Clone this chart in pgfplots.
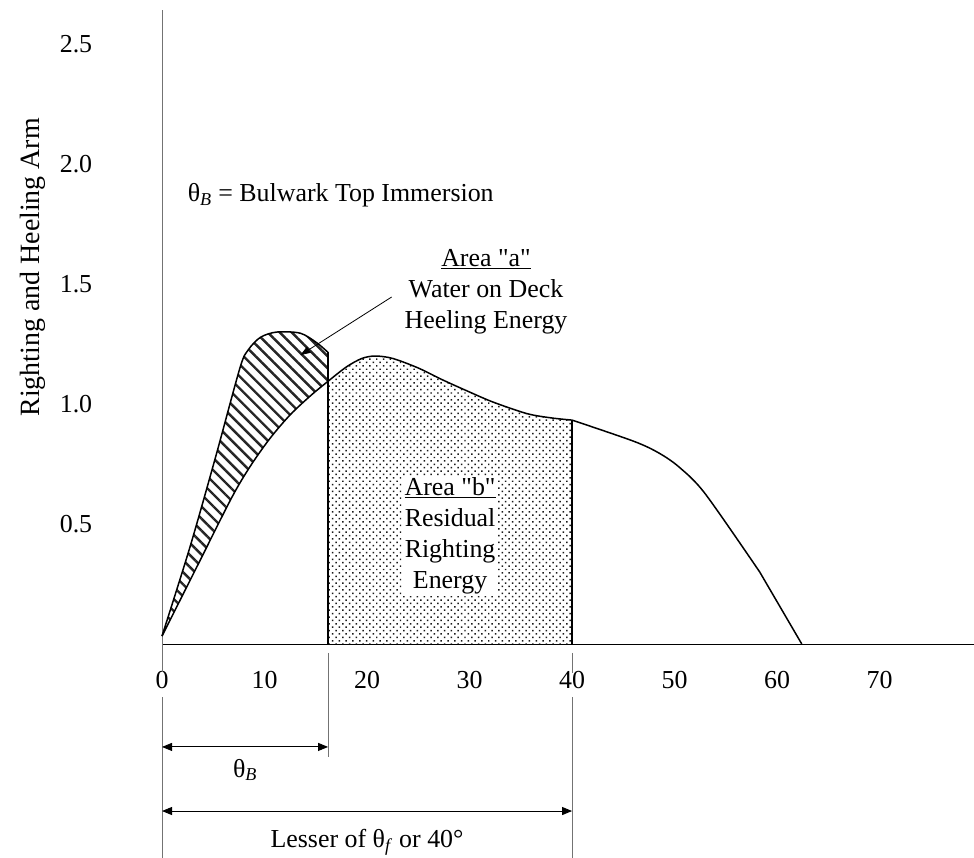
\documentclass[border=0pt]{standalone}
\usepackage{fontspec}
\setmainfont{Liberation Serif}
\usepackage{pgfplots}
\pgfplotsset{compat=1.18}
\usepgfplotslibrary{fillbetween}
\usetikzlibrary{patterns.meta,arrows.meta}

\begin{document}
\begin{tikzpicture}[font=\fontsize{26}{31}\selectfont,
  dimtip/.style={{Triangle[length=10bp,width=8bp]}-{Triangle[length=10bp,width=8bp]}, line width=0.9bp}]
\begin{axis}[
  at={(0,0)}, anchor=south west,
  scale only axis, width=812bp, height=634bp,
  xmin=0, xmax=79.2, ymin=0, ymax=2.642,
  axis x line=bottom, axis y line=left,
  x axis line style={-, line width=1bp},
  y axis line style={-, line width=1bp, black!55},
  major tick length=0pt,
  xtick={0,10,...,70},
  ytick={0.5,1.0,1.5,2.0,2.5},
  /pgf/number format/assume math mode=true,
  yticklabel style={/pgf/number format/fixed, /pgf/number format/fixed zerofill,
    /pgf/number format/precision=1, anchor=center, xshift=-86bp},
  xticklabel style={anchor=center, yshift=-36bp},
  clip=false, set layers,
]
% base line for the shaded area
\addplot[draw=none, name path=base, forget plot] coordinates {(0,0) (79.2,0)};

% righting arm curve up to 40 deg
\addplot[line width=1.5bp, smooth, name path=gz] coordinates {
  (0,0.033) (3.5,0.33) (6.8,0.61) (8.6,0.74) (10.5,0.855) (12.5,0.955)
  (14.5,1.035) (16.2,1.095) (18,1.155) (19.5,1.19) (20.8,1.20) (22.5,1.19)
  (25,1.15) (27.4,1.10) (30,1.05) (32.3,1.008) (35.6,0.96) (38,0.942) (40,0.933)
};
% heeling boundary of area a
\addplot[line width=1.5bp, smooth, name path=heel] coordinates {
  (0,0.033) (2.7,0.40) (5.2,0.775) (7.6,1.15) (8.4,1.225) (9.6,1.278)
  (11.2,1.30) (13.5,1.295) (15.1,1.255) (16.2,1.215)
};
% rest of the righting arm curve
\addplot[line width=1.5bp, smooth] coordinates {
  (40,0.933) (46,0.845) (48.5,0.795) (50.5,0.735) (53,0.625) (58.3,0.30)
};
\addplot[line width=1.5bp] coordinates {(58.3,0.30) (62.4,0)};

% area a (hatched) and area b (dotted)
\addplot[pattern={Lines[angle=-45,distance=8.5bp,line width=2.4bp]}, pattern color=black!85]
  fill between[of=heel and gz, soft clip={domain=0:16.2}];
\addplot[pattern={Dots[distance=4.8bp,angle=45,radius=1.05bp]}, pattern color=black!90]
  fill between[of=gz and base, soft clip={domain=16.2:40}];

\addplot[line width=1.6bp] coordinates {(16.2,0) (16.2,1.215)};
\addplot[line width=1.6bp] coordinates {(40,0) (40,0.933)};

% extension lines below the axis
\draw[black!55, line width=1bp] (axis cs:0,0) -- (axis cs:0,-0.117);
\draw[black!55, line width=1bp] (axis cs:0,-0.221) -- (axis cs:0,-0.892);
\draw[black!55, line width=1bp] (axis cs:16.2,-0.0375) -- (axis cs:16.2,-0.471);
\draw[black!55, line width=1bp] (axis cs:40,-0.0375) -- (axis cs:40,-0.121);
\draw[black!55, line width=1bp] (axis cs:40,-0.221) -- (axis cs:40,-0.892);

\draw[dimtip] (axis cs:0,-0.429) -- (axis cs:16.2,-0.429);
\node[inner sep=0] at (axis cs:8.1,-0.525) {θ\textsubscript{\textit{B}}};
\draw[dimtip] (axis cs:0,-0.696) -- (axis cs:40,-0.696);
\node[inner sep=0] at (axis cs:20,-0.825) {Lesser of θ\textsubscript{\textit{f}} or 40°};

% labels
\node[anchor=west, inner sep=0] at (axis cs:2.5,1.871)
  {θ\textsubscript{\textit{B}} = Bulwark Top Immersion};
\node[align=center, inner sep=0] at (axis cs:31.6,1.467)
  {\underline{Area \textquotedbl a\textquotedbl}\\Water on Deck\\Heeling Energy};
\draw[-{Triangle[length=10bp,width=7bp]}, line width=0.8bp]
  (axis cs:22.4,1.446) -- (axis cs:13.5,1.204);
\node[align=center, fill=white, inner sep=2bp] at (axis cs:28.1,0.45)
  {\underline{Area \textquotedbl b\textquotedbl}\\Residual\\Righting\\Energy};
\node[rotate=90, font=\fontsize{28}{33}\selectfont] at (axis cs:-12.6,1.57)
  {Righting and Heeling Arm};
\end{axis}
\pgfresetboundingbox
\path (-162bp,-214bp) rectangle (812bp,644bp);
\end{tikzpicture}
\end{document}
